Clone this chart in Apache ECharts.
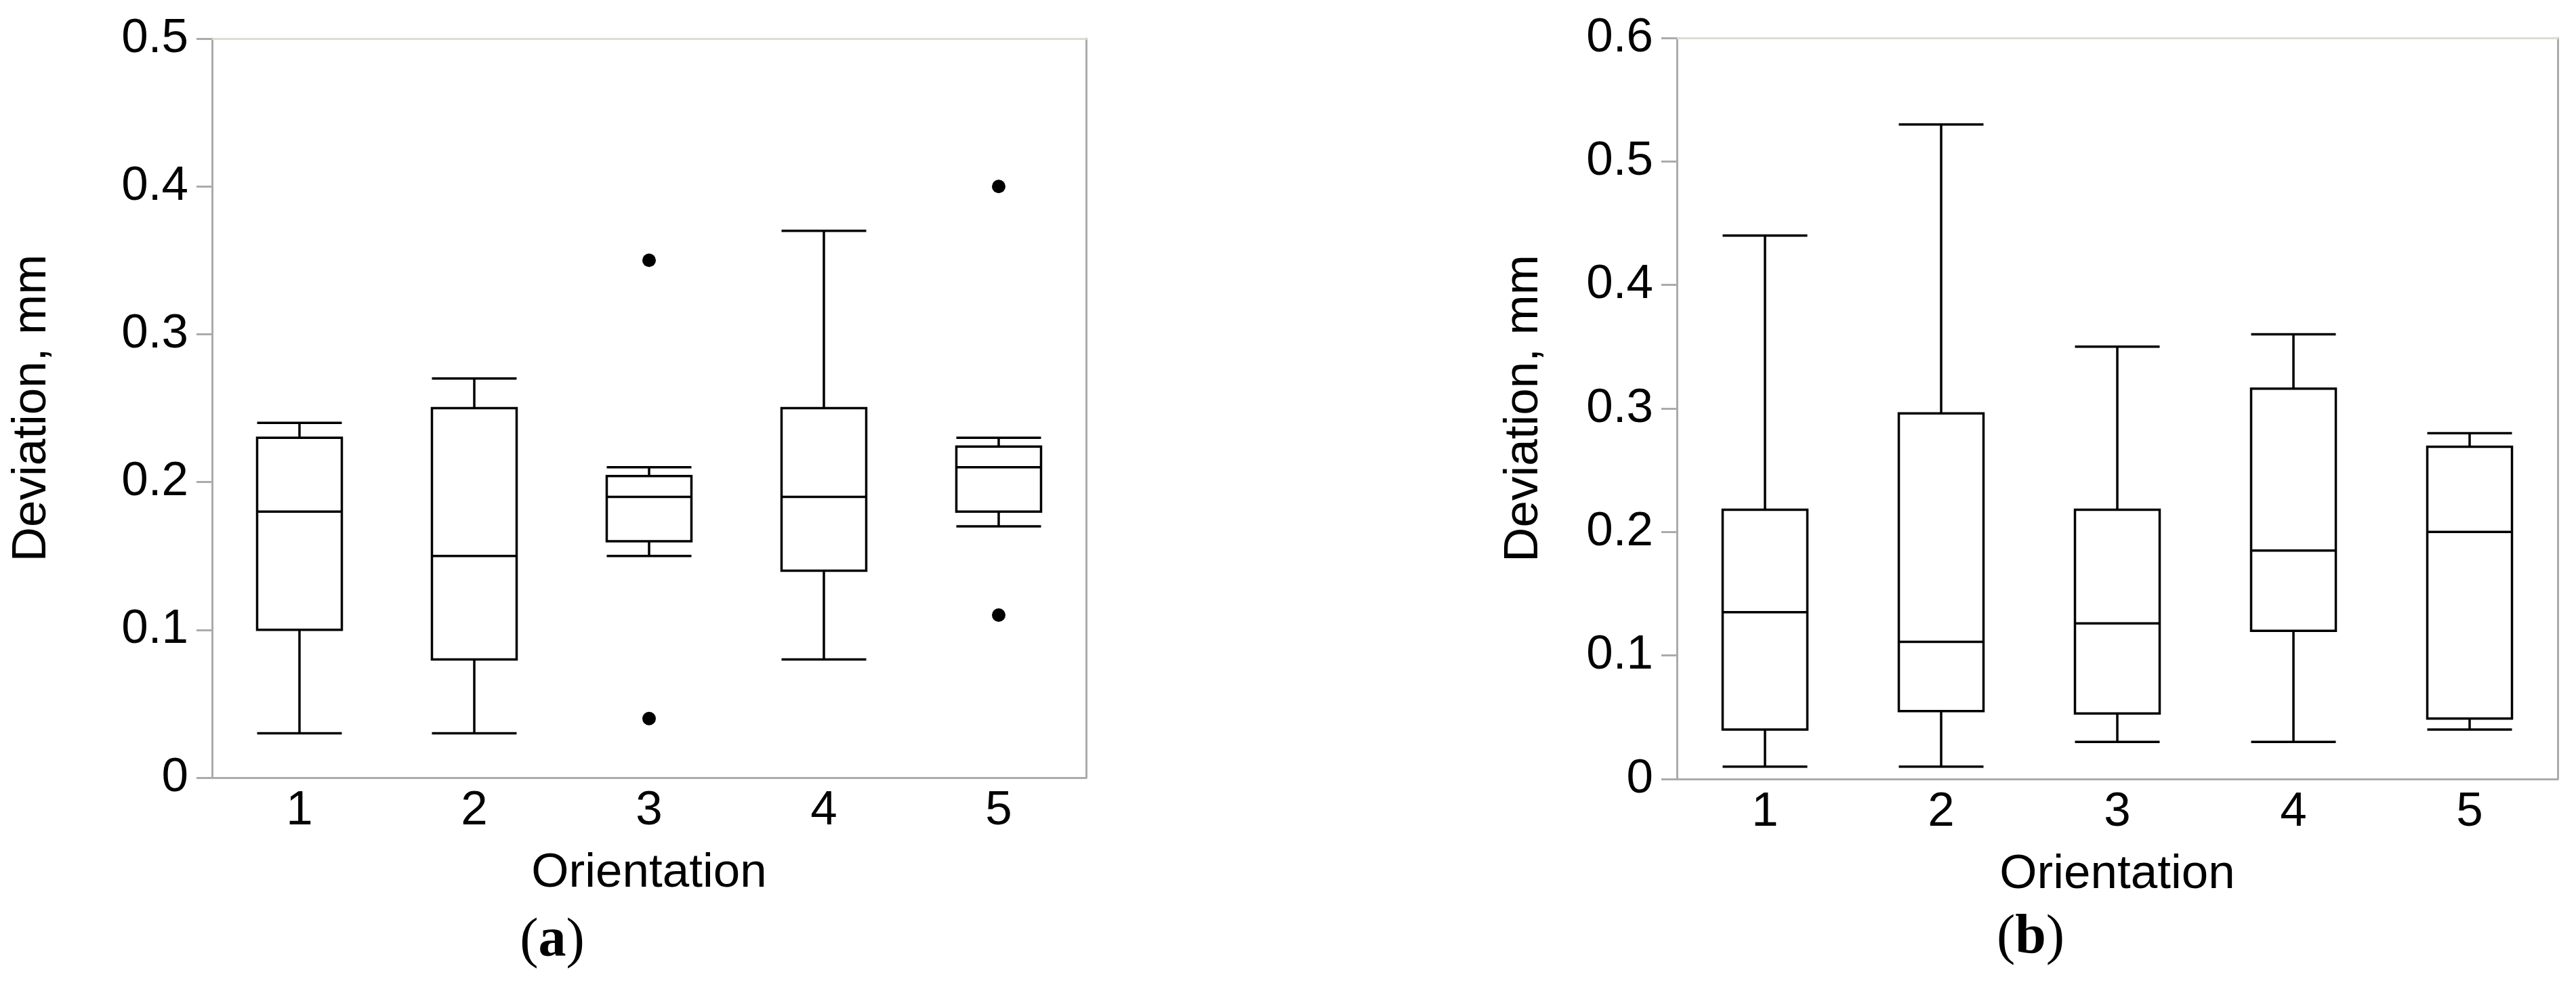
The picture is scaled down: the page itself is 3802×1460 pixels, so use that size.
<!DOCTYPE html>
<html>
<head>
<meta charset="utf-8">
<script src="https://cdn.jsdelivr.net/npm/echarts@6/dist/echarts.min.js"></script>
<style>
html,body{margin:0;padding:0;background:#fff;}
#chart{width:3802px;height:1460px;}
</style>
</head>
<body>
<div id="chart"></div>
<script>
// Categories (orientation)
const categories = ['1', '2', '3', '4', '5'];

// Panel (a): [min, Q1, median, Q3, max]
const boxA = [
  [0.03, 0.10, 0.18, 0.23, 0.24],
  [0.03, 0.08, 0.15, 0.25, 0.27],
  [0.15, 0.16, 0.19, 0.204, 0.21],
  [0.08, 0.14, 0.19, 0.25, 0.37],
  [0.17, 0.18, 0.21, 0.224, 0.23]
];
// Panel (a) outliers: [category, value]
const outliersA = [
  ['3', 0.35],
  ['3', 0.04],
  ['5', 0.40],
  ['5', 0.11]
];

// Panel (b): [min, Q1, median, Q3, max]
const boxB = [
  [0.01, 0.04, 0.135, 0.218, 0.44],
  [0.01, 0.055, 0.111, 0.296, 0.53],
  [0.03, 0.053, 0.126, 0.218, 0.35],
  [0.03, 0.12, 0.185, 0.316, 0.36],
  [0.04, 0.049, 0.20, 0.269, 0.28]
];

const yMaxA = 0.5, yMaxB = 0.6, yStep = 0.1;
const xTitle = 'Orientation';
const yTitle = 'Deviation, mm';
const panelLabels = ['a', 'b'];

const FONT = "'Liberation Sans', Arial, sans-serif";
const AXIS_GRAY = '#ababab';
const TOP_COLOR = '#dcdcd2';

function mainX(gi) {
  return {
    type: 'category', gridIndex: gi, data: categories, position: 'bottom',
    axisLine: {show: true, onZero: false, lineStyle: {color: AXIS_GRAY, width: 3}},
    axisTick: {show: false},
    axisLabel: {color: '#000', fontSize: 71, fontFamily: FONT, margin: 14},
    name: xTitle, nameLocation: 'middle', nameGap: 106,
    nameTextStyle: {color: '#000', fontSize: 71, fontFamily: FONT},
    splitLine: {show: false}
  };
}
function topX(gi) {
  return {
    type: 'category', gridIndex: gi, data: categories, position: 'top',
    axisLine: {show: true, onZero: false, lineStyle: {color: TOP_COLOR, width: 3}},
    axisTick: {show: false}, axisLabel: {show: false}, splitLine: {show: false}
  };
}
function mainY(gi, max, gap) {
  return {
    type: 'value', gridIndex: gi, min: 0, max: max, interval: yStep, position: 'left',
    axisLine: {show: true, onZero: false, lineStyle: {color: AXIS_GRAY, width: 3}},
    axisTick: {show: true, inside: false, length: 23, lineStyle: {color: AXIS_GRAY, width: 3}},
    axisLabel: {color: '#000', fontSize: 71, fontFamily: FONT, margin: 35},
    splitLine: {show: false},
    name: yTitle, nameLocation: 'middle', nameGap: gap, nameRotate: 90,
    nameTextStyle: {color: '#000', fontSize: 71, fontFamily: FONT}
  };
}
function rightY(gi, max) {
  return {
    type: 'value', gridIndex: gi, min: 0, max: max, interval: yStep, position: 'right',
    axisLine: {show: true, onZero: false, lineStyle: {color: AXIS_GRAY, width: 3}},
    axisTick: {show: false}, axisLabel: {show: false}, splitLine: {show: false}
  };
}
function boxSeries(data, xi, yi) {
  return {
    type: 'boxplot', xAxisIndex: xi, yAxisIndex: yi, data: data,
    boxWidth: [125, 125],
    itemStyle: {color: '#fff', borderColor: '#000', borderWidth: 3.5},
    emphasis: {disabled: true}, silent: true
  };
}
function panelLabel(letter, cx, cy) {
  return {
    type: 'text', x: cx, y: cy,
    style: {
      text: '{p|(}{b|' + letter + '}{p|)}',
      align: 'center', verticalAlign: 'middle',
      rich: {
        p: {fontFamily: "'Liberation Serif', serif", fontSize: 82, fill: '#000', fontWeight: 'normal'},
        b: {fontFamily: "'Liberation Serif', serif", fontSize: 82, fill: '#000', fontWeight: 'bold'}
      }
    }
  };
}

const chart = echarts.init(document.getElementById('chart'), null, {renderer: 'canvas'});
chart.setOption({
  backgroundColor: '#fff',
  animation: false,
  grid: [
    {left: 313, top: 57, right: 2199, bottom: 312},
    {left: 2475, top: 56, right: 27, bottom: 310}
  ],
  xAxis: [mainX(0), mainX(1), topX(0), topX(1)],
  yAxis: [mainY(0, yMaxA, 230), mainY(1, yMaxB, 190), rightY(0, yMaxA), rightY(1, yMaxB)],
  series: [
    boxSeries(boxA, 0, 0),
    boxSeries(boxB, 1, 1),
    {
      type: 'scatter', xAxisIndex: 0, yAxisIndex: 0, data: outliersA,
      symbol: 'circle', symbolSize: 20, itemStyle: {color: '#000', opacity: 1}, silent: true
    }
  ],
  graphic: [
    panelLabel(panelLabels[0], 815, 1390),
    panelLabel(panelLabels[1], 2997, 1385)
  ]
});
</script>
</body>
</html>
